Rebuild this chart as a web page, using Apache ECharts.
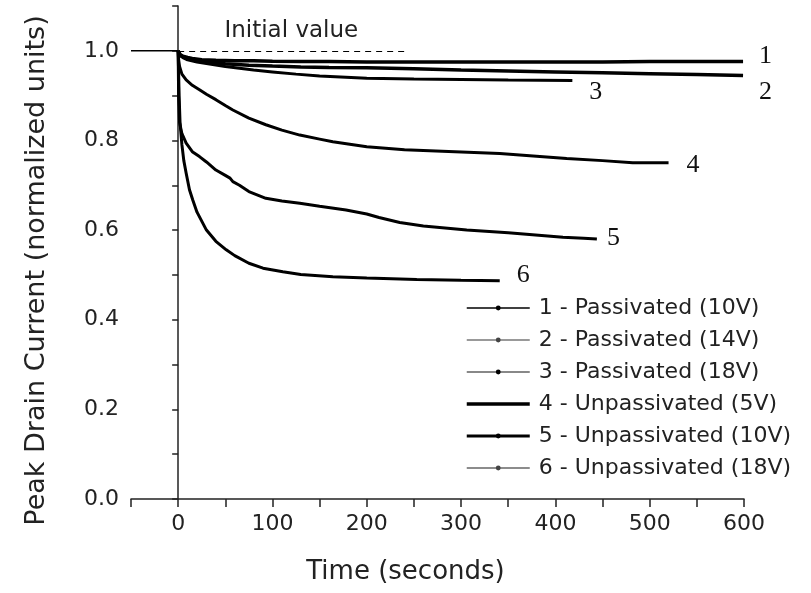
<!DOCTYPE html>
<html>
<head>
<meta charset="utf-8">
<script src="https://cdn.jsdelivr.net/npm/echarts@6/dist/echarts.min.js"></script>
<style>html,body{margin:0;padding:0;background:#fff}#c{width:811px;height:593px}</style>
</head>
<body>
<div id="c"></div>
<script>
// ---- data ----
const names = ['1 - Passivated (10V)', '2 - Passivated (14V)', '3 - Passivated (18V)',
  '4 - Unpassivated (5V)', '5 - Unpassivated (10V)', '6 - Unpassivated (18V)'];
const endTags = ['1', '2', '3', '4', '5', '6'];

const t1 = [0, 2, 5, 10, 15, 25, 40, 60, 80, 100, 130, 160, 200, 250, 300, 350, 400, 450, 500, 550, 599];
const v1 = [1.0, 0.992, 0.988, 0.985, 0.983, 0.98, 0.979, 0.978, 0.978, 0.977, 0.976, 0.976, 0.975, 0.975, 0.975, 0.975, 0.975, 0.975, 0.976, 0.976, 0.976];

const t2 = [0, 2, 5, 10, 20, 35, 50, 75, 100, 130, 160, 200, 250, 300, 350, 400, 450, 500, 550, 599];
const v2 = [1.0, 0.99, 0.987, 0.983, 0.978, 0.974, 0.971, 0.968, 0.966, 0.964, 0.963, 0.962, 0.96, 0.957, 0.955, 0.953, 0.951, 0.949, 0.947, 0.945];

const t3 = [0, 2, 5, 10, 20, 35, 50, 65, 80, 100, 125, 150, 200, 250, 300, 350, 418];
const v3 = [1.0, 0.99, 0.985, 0.98, 0.975, 0.97, 0.965, 0.961, 0.957, 0.953, 0.948, 0.944, 0.939, 0.937, 0.936, 0.935, 0.934];

const t4 = [0, 0.5, 1.5, 4, 8.5, 15, 22.6, 30, 40, 50, 58, 75, 93, 110, 129, 150, 164, 200, 240, 280, 341, 380, 412, 450, 482, 520];
const v4 = [1.0, 0.98, 0.965, 0.948, 0.935, 0.923, 0.913, 0.903, 0.891, 0.878, 0.868, 0.85, 0.835, 0.823, 0.812, 0.803, 0.797, 0.786, 0.779, 0.776, 0.771, 0.765, 0.76, 0.755, 0.75, 0.75];

const t5 = [0, 0.5, 1.5, 4, 8.5, 15, 22.6, 30, 40, 50, 55, 58, 65, 75, 93, 110, 129, 150, 178, 200, 213, 235, 260, 306, 350, 408, 430, 444];
const v5 = [1.0, 0.9, 0.84, 0.815, 0.794, 0.775, 0.764, 0.752, 0.734, 0.722, 0.716, 0.708, 0.7, 0.686, 0.671, 0.665, 0.66, 0.653, 0.645, 0.636, 0.628, 0.617, 0.609, 0.6, 0.594, 0.584, 0.582, 0.58];

const t6 = [0, 0.5, 1, 2, 4, 6, 8.5, 12, 15.5, 20, 30, 40, 51, 60, 75, 90, 111, 130, 164, 200, 253, 300, 341];
const v6 = [1.0, 0.95, 0.9, 0.84, 0.79, 0.755, 0.727, 0.69, 0.667, 0.64, 0.6, 0.575, 0.556, 0.543, 0.526, 0.515, 0.507, 0.501, 0.496, 0.493, 0.49, 0.488, 0.487];

const initT = [-50, 0];
const initV = [1.0, 1.0];
const initDashT = [0, 240];
const initLabel = 'Initial value';

const xTicks = [-50, 600, 50];   // min, max, interval
const yTicks = [0, 1.1, 0.1];

// ---- styles ----
const FONT = 'DejaVu Sans';
const times = [t1, t2, t3, t4, t5, t6];
const vals = [v1, v2, v3, v4, v5, v6];
const endOffsets = [[8, -5], [8, 17], [9, 12], [10, 2], [2, -1], [9, -6]];
const lineWidths = [3.5, 3.5, 3, 3, 3, 3];
const legendStyles = [
  {lineStyle: {color: '#000', width: 1.5}, itemStyle: {color: '#000'}},
  {lineStyle: {color: '#777', width: 1.5}, itemStyle: {color: '#444'}},
  {lineStyle: {color: '#888', width: 2}, itemStyle: {color: '#000'}},
  {lineStyle: {color: '#000', width: 3.5}, itemStyle: {color: 'rgba(0,0,0,0)', borderWidth: 0}},
  {lineStyle: {color: '#000', width: 3}, itemStyle: {color: '#000'}},
  {lineStyle: {color: '#666', width: 1.5}, itemStyle: {color: '#444'}}
];

const series = times.map((t, k) => ({
  name: names[k],
  type: 'line',
  data: t.map((x, i) => [x, vals[k][i]]),
  showSymbol: false,
  symbol: 'circle',
  symbolSize: 4,
  lineStyle: {color: '#000', width: lineWidths[k]},
  itemStyle: {color: '#000'},
  emphasis: {disabled: true},
  endLabel: {
    show: true, formatter: endTags[k], offset: endOffsets[k],
    fontFamily: 'Liberation Serif', fontSize: 26, color: '#111'
  }
}));

series.push({
  name: 'init',
  type: 'line',
  data: initT.map((x, i) => [x, initV[i]]),
  showSymbol: false,
  symbol: 'none',
  lineStyle: {color: '#000', width: 1.5},
  emphasis: {disabled: true},
  markLine: {
    silent: true,
    symbol: 'none',
    lineStyle: {color: '#000', width: 1, type: [6, 5]},
    label: {show: true, position: 'middle', formatter: initLabel, fontFamily: FONT, fontSize: 23, color: '#222', distance: 8},
    data: [[{coord: [initDashT[0], 1.0]}, {coord: [initDashT[1], 1.0]}]]
  }
});

const chart = echarts.init(document.getElementById('c'), null, {renderer: 'canvas'});
chart.setOption({
  animation: false,
  backgroundColor: '#fff',
  grid: {left: 131, right: 67, top: 6, bottom: 94, containLabel: false},
  xAxis: {
    type: 'value', min: xTicks[0], max: xTicks[1], interval: xTicks[2],
    name: 'Time (seconds)', nameLocation: 'middle', nameGap: 60,
    nameTextStyle: {fontFamily: FONT, fontSize: 26, color: '#222', padding: [0, 64, 0, 0]},
    axisLine: {lineStyle: {color: '#222', width: 1.5}},
    axisTick: {show: true, length: 8, lineStyle: {color: '#222', width: 1.5}},
    axisLabel: {fontFamily: FONT, fontSize: 22, color: '#222', margin: 14,
      formatter: v => (Math.round(v) % 100 === 0 ? String(Math.round(v)) : '')},
    splitLine: {show: false}
  },
  yAxis: {
    type: 'value', min: yTicks[0], max: yTicks[1], interval: yTicks[2],
    name: 'Peak Drain Current (normalized units)', nameLocation: 'middle', nameGap: 81,
    nameTextStyle: {fontFamily: FONT, fontSize: 27, color: '#222', padding: [0, 36, 0, 0]},
    axisLine: {show: true, lineStyle: {color: '#222', width: 1.5}},
    axisTick: {show: true, length: 6, lineStyle: {color: '#222', width: 1.5}},
    axisLabel: {fontFamily: FONT, fontSize: 22, color: '#222', margin: 12,
      formatter: v => (Math.round(v * 10) % 2 === 0 ? v.toFixed(1) : '')},
    splitLine: {show: false}
  },
  legend: {
    orient: 'vertical', left: 465, top: 295, padding: 0,
    itemWidth: 63, itemHeight: 6, itemGap: 6,
    textStyle: {fontFamily: FONT, fontSize: 22, color: '#222', lineHeight: 26, padding: [0, 0, 0, 4]},
    data: names.map((n, k) => Object.assign({name: n}, legendStyles[k])),
    selectedMode: false
  },
  series: series
});
</script>
</body>
</html>
